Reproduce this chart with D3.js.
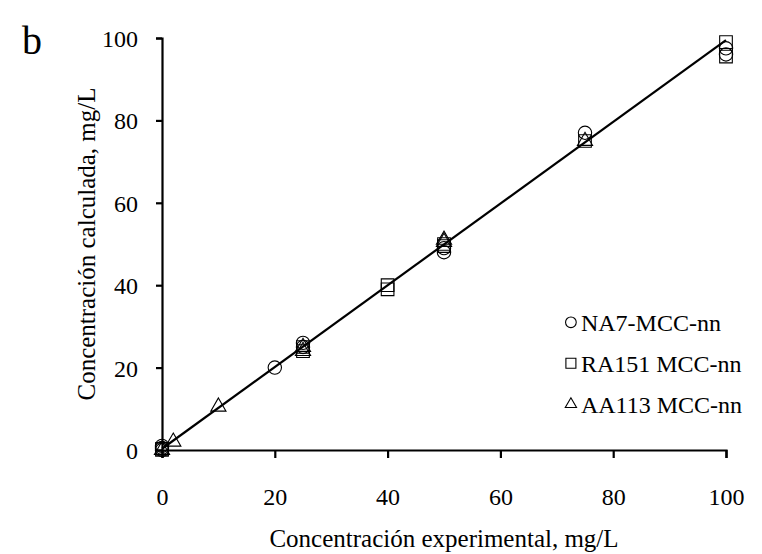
<!DOCTYPE html>
<html>
<head>
<meta charset="utf-8">
<script src="https://cdn.jsdelivr.net/npm/d3@7"></script>
<style>
  body { margin: 0; background: #fff; }
  svg text { font-family: "Palatino Linotype", "Book Antiqua", "Liberation Serif", serif; fill: #000; }
</style>
</head>
<body>
<div id="chart"></div>
<script>
// data
var seriesNames = ["NA7-MCC-nn", "RA151 MCC-nn", "AA113 MCC-nn"];
var na7X = [0, 0, 0, 20, 25, 25, 50, 50, 75, 100, 100];
var na7Y = [0, 0.5, 1, 20, 25, 26, 48, 49, 77, 96, 97.5];
var ra151X = [0, 0, 25, 25, 40, 40, 50, 50, 75, 100, 100];
var ra151Y = [0, 0.3, 24, 25, 39, 40, 49.5, 50, 75, 95.5, 99];
var aa113X = [0, 2, 10, 25, 25, 50, 50, 75];
var aa113Y = [0, 2, 10.5, 24, 25, 50.5, 51, 75];
var fitLine = [[0, 0.3], [100, 99.5]];
var ticks = [0, 20, 40, 60, 80, 100];

var W = 762, H = 554;
var margin = {top: 38, right: 36, bottom: 104, left: 162},
    width = W - margin.left - margin.right,
    height = H - margin.top - margin.bottom;

var x = d3.scaleLinear().domain([0, 100]).range([0, width]);
var y = d3.scaleLinear().domain([0, 100]).range([height, 0]);

var svg = d3.select("#chart").append("svg")
    .attr("width", W)
    .attr("height", H);

var g = svg.append("g")
    .attr("transform", "translate(" + margin.left + "," + margin.top + ")");

// axes
var xAxis = g.append("g")
    .attr("transform", "translate(0," + height + ")")
    .call(d3.axisBottom(x).tickValues(ticks).tickSize(8).tickPadding(30));
var yAxis = g.append("g")
    .call(d3.axisLeft(y).tickValues(ticks).tickSize(6).tickPadding(18));

[xAxis, yAxis].forEach(function(a) {
  a.select(".domain").attr("stroke", "#000").attr("stroke-width", 2.2);
  a.selectAll(".tick line").attr("stroke", "#000").attr("stroke-width", 2.2);
  a.selectAll(".tick text").style("font-size", "24px");
});
yAxis.selectAll(".tick text").attr("dy", "0.35em");

// regression line
g.append("line")
    .attr("x1", x(fitLine[0][0]))
    .attr("y1", y(fitLine[0][1]))
    .attr("x2", x(fitLine[1][0]))
    .attr("y2", y(fitLine[1][1]))
    .attr("stroke", "#000")
    .attr("stroke-width", 2.2);

function zip(xs, ys) {
  return xs.map(function(v, i) { return {x: v, y: ys[i]}; });
}

var symbols = [d3.symbolCircle, d3.symbolSquare, d3.symbolTriangle];
var sizes = [140, 160, 100];
var legendSizes = [90, 100, 55];
var series = [zip(na7X, na7Y), zip(ra151X, ra151Y), zip(aa113X, aa113Y)];

series.forEach(function(pts, i) {
  g.selectAll(".pt" + i)
      .data(pts)
    .enter().append("path")
      .attr("class", "pt" + i)
      .attr("d", d3.symbol().type(symbols[i]).size(sizes[i]))
      .attr("transform", function(d) { return "translate(" + x(d.x) + "," + y(d.y) + ")"; })
      .attr("fill", "none")
      .attr("stroke", "#000")
      .attr("stroke-width", 1.1);
});

// legend
var legend = g.append("g")
    .attr("transform", "translate(" + (x(72.5)) + "," + y(31) + ")");

seriesNames.forEach(function(name, i) {
  var row = legend.append("g").attr("transform", "translate(0," + (i * 41) + ")");
  row.append("path")
      .attr("d", d3.symbol().type(symbols[i]).size(legendSizes[i]))
      .attr("fill", "none")
      .attr("stroke", "#000")
      .attr("stroke-width", 1.1);
  row.append("text")
      .attr("x", 10)
      .attr("dy", "0.35em")
      .style("font-size", "24px")
      .text(name);
});

// axis titles
svg.append("text")
    .attr("x", margin.left + width / 2)
    .attr("y", 547)
    .attr("text-anchor", "middle")
    .style("font-size", "25px")
    .text("Concentración experimental, mg/L");

svg.append("text")
    .attr("transform", "translate(86," + (margin.top + height / 2) + ") rotate(-90)")
    .attr("text-anchor", "middle")
    .attr("dy", "0.35em")
    .style("font-size", "25px")
    .text("Concentración calculada, mg/L");

svg.append("text")
    .attr("x", 22)
    .attr("y", 54)
    .style("font-size", "40px")
    .text("b");
</script>
</body>
</html>
